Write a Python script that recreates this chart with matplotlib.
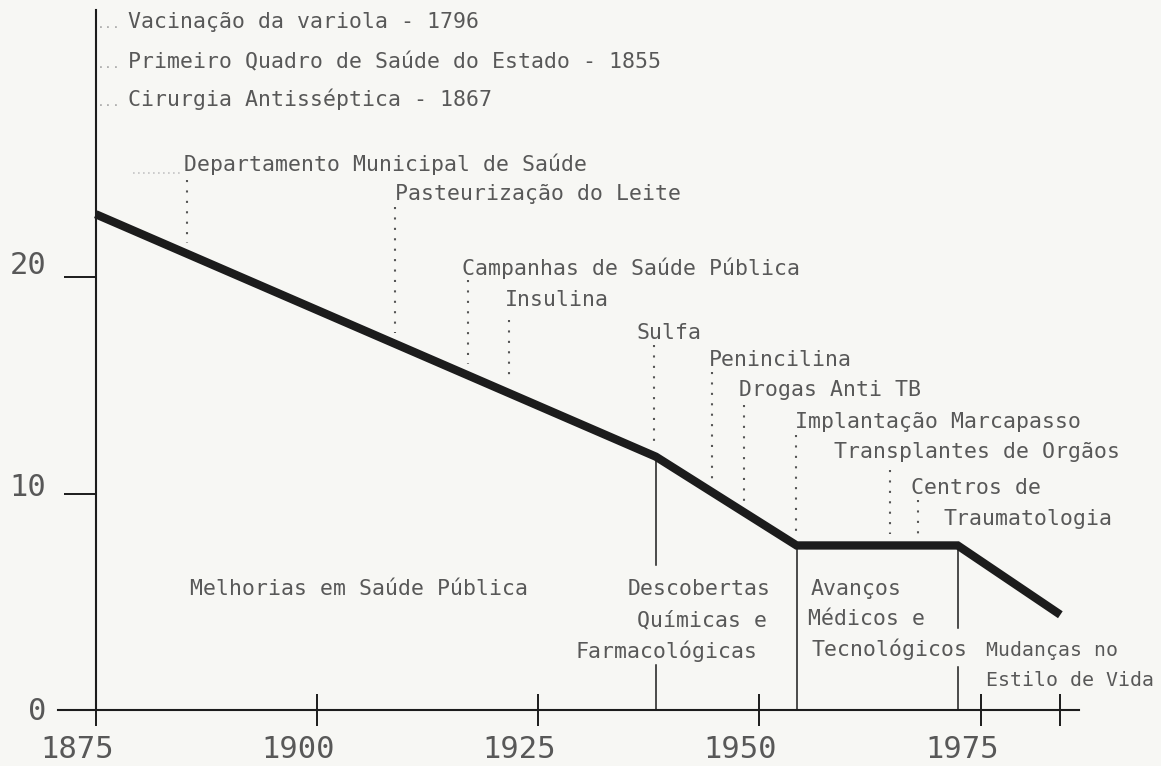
import numpy as np
import matplotlib
matplotlib.use("Agg")
import matplotlib.pyplot as plt
from matplotlib.transforms import ScaledTranslation

# ---------------- data ----------------
line_years = [1875, 1938.3, 1954.2, 1972.4, 1984.0]
line_values = [22.9, 11.7, 7.6, 7.6, 4.4]

history_labels = ["Vacinação da variola - 1796",
                  "Primeiro Quadro de Saúde do Estado - 1855",
                  "Cirurgia Antisséptica - 1867"]

event_labels = ["Departamento Municipal de Saúde", "Pasteurização do Leite",
                "Campanhas de Saúde Pública", "Insulina", "Sulfa", "Penincilina",
                "Drogas Anti TB", "Implantação Marcapasso", "Transplantes de Orgãos",
                "Centros de\nTraumatologia"]
event_years = [1885.3, 1908.8, 1917.1, 1921.7, 1938.1, 1944.6, 1948.2, 1954.1, 1964.7, 1967.9]

period_labels = ["Melhorias em Saúde Pública",
                 "Descobertas\nQuímicas e\nFarmacológicas",
                 "Avanços\nMédicos e\nTecnológicos",
                 "Mudanças no\nEstilo de Vida"]
period_bounds = [1938.3, 1954.2, 1972.4]

x_ticks = [1875, 1900, 1925, 1950, 1975, 1984]
x_tick_labels = ["1875", "1900", "1925", "1950", "1975", ""]
y_ticks = [0, 10, 20]
y_tick_labels = ["0", "10", "20"]

# ---------------- layout (pixel positions of the reference) ----------------
W, H = 1161, 766
X0, PXY = 95.7, 8.85      # px of 1875, px per year
Y0, PXV = 710.0, 21.65    # px of value 0, px per unit


def xp(px):
    return 1875 + (px - X0) / PXY


def yp(py):
    return (Y0 - py) / PXV


history_pos = [(128, 20), (128, 60), (128, 98)]
event_text_pos = [[(184, 163)], [(395, 192)], [(462, 267)], [(504.5, 298)],
                  [(636, 331)], [(709, 358)], [(739, 388)], [(795, 420)],
                  [(834, 450)], [(910.6, 485.5), (943.5, 517)]]
event_dot_top = [180, 207, 280, 320, 345, 372, 405, 435, 470, 500]
period_text_pos = [[(190, 586.7)],
                   [(628, 586.7), (637, 618), (575, 650)],
                   [(811, 586.7), (808, 617), (811, 648.5)],
                   [(986, 648.5), (986, 678.5)]]
period_font = [15.5, 15.5, 15.5, 14.3]
divider_gaps = [(565, 665), None, (628, 667)]

TEXT = "#585858"
DARK = "#1c1c1c"
BG = "#f7f7f4"
FONT = ["DejaVu Sans Mono", "DejaVu Sans"]
FS = 15.5
NUM_FS = 22

plt.rcParams["font.family"] = FONT

fig = plt.figure(figsize=(W / 100, H / 100), dpi=100, facecolor=BG)
left_px, right_px, top_px = 58, 1079, 10
ax = fig.add_axes([left_px / W, 1 - Y0 / H, (right_px - left_px) / W, (Y0 - top_px) / H])
ax.set_facecolor(BG)
ax.set_xlim(xp(left_px), xp(right_px))
ax.set_ylim(0, yp(top_px))

for s in ["top", "right"]:
    ax.spines[s].set_visible(False)
ax.spines["left"].set_position(("data", 1875))
for s in ["left", "bottom"]:
    ax.spines[s].set_color(DARK)
    ax.spines[s].set_linewidth(1.5)

ax.set_xticks(x_ticks)
ax.tick_params(axis="x", direction="inout", length=23, width=1.4, color=DARK, labelbottom=False)
ax.set_yticks([t for t in y_ticks if t > 0])
ax.tick_params(axis="y", direction="out", length=23, width=1.4, color=DARK, labelleft=False)

# tick labels
for t, lab in zip(x_ticks, x_tick_labels):
    tr = ax.transData + ScaledTranslation(-19 / 100, -(747.5 + 10.5 - Y0) / 100, fig.dpi_scale_trans)
    ax.text(t, 0, lab, transform=tr, ha="center", va="baseline", fontsize=NUM_FS,
            color=TEXT)
y_label_dy = [0, 8, 13]
for t, lab, dy in zip(y_ticks, y_tick_labels, y_label_dy):
    tr = ax.transData + ScaledTranslation(-(X0 - 46) / 100, (dy - 10.5) / 100, fig.dpi_scale_trans)
    ax.text(1875, t, lab, transform=tr, ha="right", va="baseline", fontsize=NUM_FS,
            color=TEXT)

# main line
ax.plot(line_years, line_values, color=DARK, lw=6, solid_capstyle="butt",
        solid_joinstyle="miter", zorder=5, clip_on=False)

# period dividers
for yr, gap in zip(period_bounds, divider_gaps):
    top = np.interp(yr, line_years, line_values)
    if gap is None:
        ax.plot([yr, yr], [0, top], color=DARK, lw=1.1, zorder=3)
    else:
        ax.plot([yr, yr], [yp(gap[0]), top], color=DARK, lw=1.1, zorder=3)
        ax.plot([yr, yr], [0, yp(gap[1])], color=DARK, lw=1.1, zorder=3)

# events
for lab, yr, pos, dtop in zip(event_labels, event_years, event_text_pos, event_dot_top):
    for line, (px, py) in zip(lab.split("\n"), pos):
        ax.text(xp(px), yp(py + 8), line, ha="left", va="baseline", fontsize=FS,
                color=TEXT, clip_on=False)
    bottom = np.interp(yr, line_years, line_values) + 11 / PXV
    ax.plot([yr, yr], [yp(dtop), bottom], color="#555555", lw=1.5,
            linestyle=(0, (1, 4)), zorder=2, clip_on=False)

# faint leader before first event
ax.plot([xp(133), xp(180)], [yp(173), yp(173)], color="#c4c4c4", lw=1.2,
        linestyle=(0, (1, 2)), clip_on=False)

# history labels
for lab, (px, py) in zip(history_labels, history_pos):
    ax.text(xp(97), yp(py + 8), "...", ha="left", va="baseline", fontsize=9.5,
            color="#a8a8a8", clip_on=False)
    ax.text(xp(px), yp(py + 8), lab, ha="left", va="baseline", fontsize=FS,
            color=TEXT, clip_on=False)

# period labels
for lab, pos, fs in zip(period_labels, period_text_pos, period_font):
    for line, (px, py) in zip(lab.split("\n"), pos):
        ax.text(xp(px), yp(py + 8), line, ha="left", va="baseline", fontsize=fs,
                color=TEXT, clip_on=False)

fig.savefig("out.png", dpi=100, facecolor=BG)
